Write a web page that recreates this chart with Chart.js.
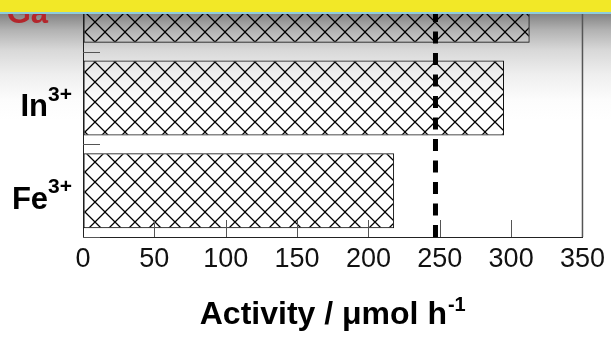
<!DOCTYPE html>
<html>
<head>
<meta charset="utf-8">
<script src="https://cdn.jsdelivr.net/npm/chart.js@4.4.1/dist/chart.umd.min.js"></script>
<style>
  html, body { margin: 0; padding: 0; }
  body {
    width: 611px; height: 347px; overflow: hidden; position: relative;
    background: linear-gradient(to bottom, #7f7f7f 0px, #848484 14px, #b2b2b2 30px, #d8d8d8 50px, #efefef 75px, #fcfcfc 100px, #ffffff 120px);
  }
  .banner {
    position: absolute; left: 0; top: 0; width: 611px; height: 12px;
    background: #f2e827; border-bottom: 2px solid #8ecbdc; z-index: 2;
  }
  .chart-box { position: absolute; left: 0; top: -60px; width: 611px; height: 407px; z-index: 1; }
</style>
</head>
<body>
<div class="banner"></div>
<div class="chart-box"><canvas id="activityChart" width="611" height="407"></canvas></div>
<script>
// Data
const categories = ['Ga', 'In', 'Fe'];
const charges = ['3+', '3+', '3+'];
const labelColors = ['#b3262c', '#000000', '#000000'];
const activity = [313, 295, 218];
const referenceActivity = 247;
const xTickValues = [0, 50, 100, 150, 200, 250, 300, 350];
const axisTitle = 'Activity / \u03bcmol h';
const axisTitleSup = '-1';

const FONT = '"Liberation Sans", Arial, sans-serif';

// Cross-hatch fill for the bars (transparent between lines)
function makeHatch() {
    const tile = document.createElement('canvas');
    tile.width = 20;
    tile.height = 20;
    const c = tile.getContext('2d');
    c.strokeStyle = '#000';
    c.lineWidth = 1.25;
    c.beginPath();
    c.moveTo(-5, -5); c.lineTo(25, 25);
    c.moveTo(25, -5); c.lineTo(-5, 25);
    c.stroke();
    const pattern = c.createPattern(tile, 'repeat');
    pattern.setTransform(new DOMMatrix().translate(5, 12));
    return pattern;
}

// Extra drawing: inward ticks, frame, dashed reference line, labels with superscripts
const decorations = {
    id: 'decorations',
    afterDatasetsDraw(chart) {
        const { ctx, chartArea, scales } = chart;
        const x = scales.x, y = scales.y;
        ctx.save();

        // right frame
        ctx.strokeStyle = '#555';
        ctx.lineWidth = 1.5;
        ctx.beginPath();
        ctx.moveTo(chartArea.right, chartArea.top);
        ctx.lineTo(chartArea.right, chartArea.bottom);
        ctx.stroke();

        // inward x ticks
        ctx.strokeStyle = '#555';
        ctx.lineWidth = 1;
        xTickValues.slice(1, -1).forEach(v => {
            const px = Math.round(x.getPixelForValue(v)) + 0.5;
            ctx.beginPath();
            ctx.moveTo(px, chartArea.bottom);
            ctx.lineTo(px, chartArea.bottom - 17);
            ctx.stroke();
        });

        // inward y ticks at category boundaries
        for (let i = 0; i < categories.length; i++) {
            const next = i + 1 < categories.length ? y.getPixelForValue(i + 1) : null;
            const py = next === null ? chartArea.bottom : (y.getPixelForValue(i) + next) / 2;
            ctx.beginPath();
            ctx.moveTo(chartArea.left, Math.round(py) + 0.5);
            ctx.lineTo(chartArea.left + 17, Math.round(py) + 0.5);
            ctx.stroke();
        }

        // dashed reference line
        const rx = x.getPixelForValue(referenceActivity);
        ctx.strokeStyle = '#000';
        ctx.lineWidth = 5;
        ctx.setLineDash([12, 9.5]);
        ctx.beginPath();
        ctx.moveTo(rx, chartArea.bottom);
        ctx.lineTo(rx, chartArea.top);
        ctx.stroke();
        ctx.setLineDash([]);

        ctx.restore();
    },
    afterDraw(chart) {
        const { ctx, chartArea, scales } = chart;
        const y = scales.y;
        ctx.save();
        ctx.textAlign = 'left';
        ctx.textBaseline = 'alphabetic';

        // category labels, e.g. In3+
        const right = chartArea.left - 11;
        categories.forEach((name, i) => {
            const cy = y.getPixelForValue(i);
            ctx.fillStyle = labelColors[i];
            ctx.font = 'bold 21px ' + FONT;
            const supW = ctx.measureText(charges[i]).width;
            ctx.fillText(charges[i], right - supW, cy + 2.5);
            ctx.font = 'bold 31px ' + FONT;
            const mainW = ctx.measureText(name).width;
            ctx.fillText(name, right - supW - mainW, cy + 18);
        });

        // x axis title
        ctx.fillStyle = '#000';
        ctx.font = 'bold 32px ' + FONT;
        const w1 = ctx.measureText(axisTitle).width;
        ctx.font = 'bold 20px ' + FONT;
        const w2 = ctx.measureText(axisTitleSup).width;
        const cx = (chartArea.left + chartArea.right) / 2;
        const start = cx - (w1 + w2 + 1) / 2;
        ctx.font = 'bold 32px ' + FONT;
        ctx.fillText(axisTitle, start, chartArea.bottom + 87);
        ctx.font = 'bold 20px ' + FONT;
        ctx.fillText(axisTitleSup, start + w1 + 1, chartArea.bottom + 74);

        ctx.restore();
    }
};

const ctx = document.getElementById('activityChart').getContext('2d');
const activityChart = new Chart(ctx, {
    type: 'bar',
    data: {
        labels: categories,
        datasets: [{
            data: activity,
            backgroundColor: makeHatch(),
            borderColor: '#111',
            borderWidth: 1,
            borderSkipped: false,
            barPercentage: 0.81,
            categoryPercentage: 1
        }]
    },
    options: {
        indexAxis: 'y',
        responsive: false,
        animation: false,
        devicePixelRatio: 1,
        layout: { padding: { top: 19, right: 27, left: 0, bottom: 0 } },
        plugins: { legend: { display: false }, tooltip: { enabled: false } },
        scales: {
            x: {
                type: 'linear',
                min: 0,
                max: 350,
                afterBuildTicks: scale => { scale.ticks = xTickValues.map(v => ({ value: v })); },
                afterFit: scale => { scale.height = 110; },
                ticks: {
                    autoSkip: false,
                    maxRotation: 0,
                    color: '#111',
                    padding: 6,
                    font: { family: FONT, size: 27 }
                },
                grid: { drawOnChartArea: false, drawTicks: false },
                border: { display: true, color: '#222', width: 1 }
            },
            y: {
                type: 'category',
                afterFit: scale => { scale.width = 83; },
                ticks: { display: false },
                grid: { display: false },
                border: { display: true, color: '#222', width: 1 }
            }
        }
    },
    plugins: [decorations]
});
</script>
</body>
</html>
